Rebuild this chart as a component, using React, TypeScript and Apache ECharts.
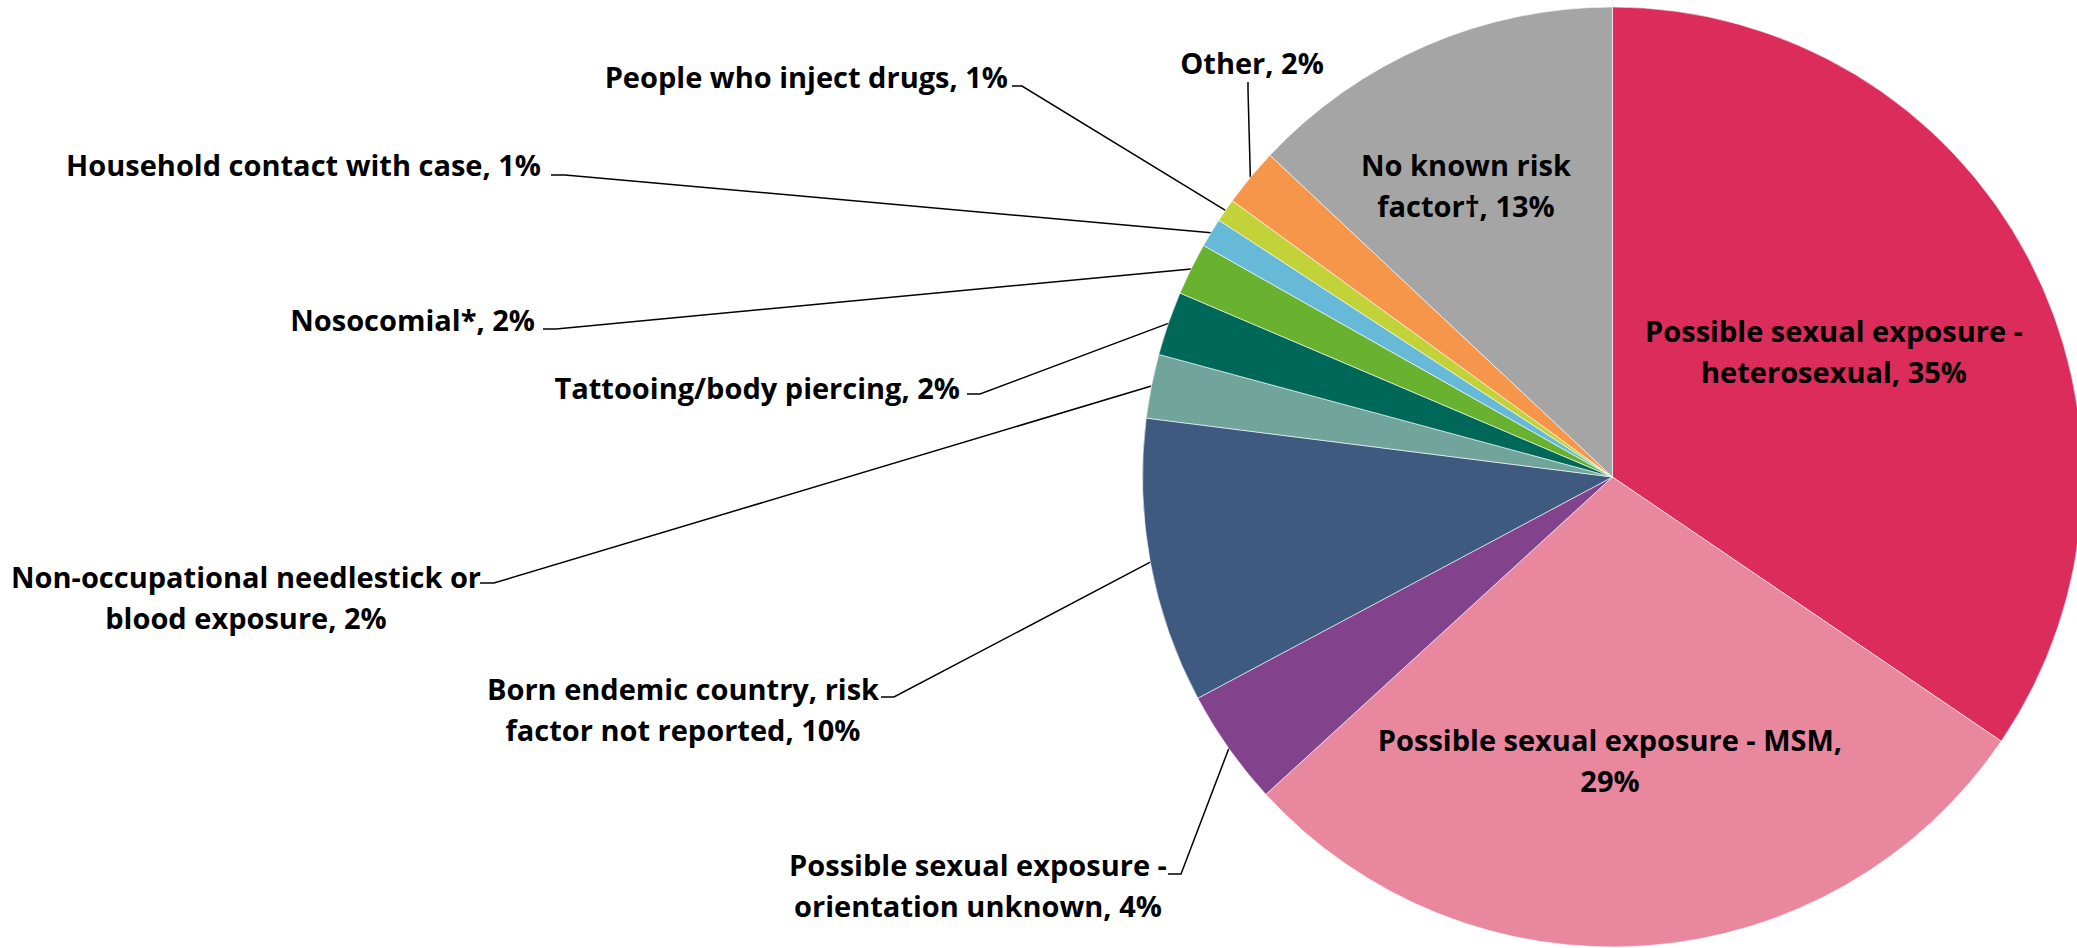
import React, { useEffect, useRef } from "react";
import * as echarts from "echarts";

const categories = [
  "Possible sexual exposure -\nheterosexual",
  "Possible sexual exposure - MSM",
  "Possible sexual exposure -\norientation unknown",
  "Born endemic country, risk\nfactor not reported",
  "Non-occupational needlestick or\nblood exposure",
  "Tattooing/body piercing",
  "Nosocomial*",
  "Household contact with case",
  "People who inject drugs",
  "Other",
  "No known risk\nfactor\u2020",
];
const values = [34.5, 28.7, 4.0, 9.8, 2.2, 2.2, 1.8, 1.0, 0.8, 2.0, 13.0];
const colors = [
  "#DC2C5B",
  "#E9879F",
  "#83428C",
  "#3E5A80",
  "#71A59B",
  "#006858",
  "#68B22F",
  "#67B9D8",
  "#C2D33A",
  "#F6964A",
  "#A5A5A5",
];

type LabelCfg = {
  x: number;
  y: number;
  align: "left" | "center" | "right";
  inside?: boolean;
  sep?: string;
  line?: number[][];
};

// label placement (layout only)
const labelCfg: LabelCfg[] = [
  { x: 1834, y: 351, align: "center", inside: true },
  { x: 1610, y: 760, align: "center", inside: true, sep: ",\n" },
  { x: 978, y: 885, align: "center", line: [[1181, 874], [1168, 874]] },
  { x: 683, y: 709, align: "center", line: [[894, 697], [881, 697]] },
  { x: 246, y: 597, align: "center", line: [[494, 583], [480, 583]] },
  { x: 960, y: 387, align: "right", line: [[980, 394], [967, 394]] },
  { x: 535, y: 319, align: "right", line: [[556, 329], [543, 329]] },
  { x: 541, y: 164, align: "right", line: [[565, 175], [551, 175]] },
  { x: 1008, y: 76, align: "right", line: [[1022, 86], [1012, 86]] },
  { x: 1252, y: 62, align: "center", line: [[1248, 90], [1248, 82]] },
  { x: 1466, y: 185, align: "center", inside: true },
];

export default function App() {
  const ref = useRef<HTMLDivElement>(null);
  useEffect(() => {
    if (!ref.current) return;
    const chart = echarts.init(ref.current, undefined, { renderer: "svg" });
    const data = values.map((v, i) => ({
      name: categories[i],
      value: v,
      itemStyle: { color: colors[i] },
      label: { position: labelCfg[i].inside ? "inside" : "outside" },
      labelLine: { show: !labelCfg[i].inside },
    }));
    chart.setOption({
      animation: false,
      backgroundColor: "#ffffff",
      series: [
        {
          type: "pie",
          center: [1612.5, 477],
          radius: [0, 470],
          startAngle: 90,
          clockwise: true,
          avoidLabelOverlap: false,
          silent: true,
          emphasis: { disabled: true },
          itemStyle: { borderColor: "#ffffff", borderWidth: 0.6 },
          label: {
            show: true,
            color: "#000000",
            fontFamily: "'Open Sans', sans-serif",
            fontWeight: "bold",
            fontSize: 29,
            lineHeight: 41,
            formatter: (p: any) =>
              `${p.name}${labelCfg[p.dataIndex].sep ?? ", "}${Math.round(p.value)}%`,
          },
          labelLine: {
            show: true,
            length: 10,
            length2: 10,
            lineStyle: { color: "#000000", width: 1.5 },
          },
          labelLayout: (params: any) => {
            const c = labelCfg[params.dataIndex];
            const out: any = {
              x: c.x,
              y: c.y,
              align: c.align,
              verticalAlign: "middle",
            };
            if (c.line && params.labelLinePoints && params.labelLinePoints[0]) {
              out.labelLinePoints = [params.labelLinePoints[0], c.line[0], c.line[1]];
            }
            return out;
          },
          data,
        },
      ],
    });
    return () => chart.dispose();
  }, []);
  return (
    <div
      ref={ref}
      style={{ position: "fixed", left: 0, top: 0, width: "2077px", height: "948px" }}
    />
  );
}
